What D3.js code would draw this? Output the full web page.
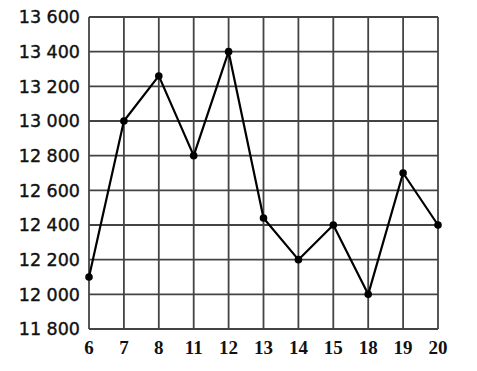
<!DOCTYPE html>
<html>
<head>
<meta charset="utf-8">
<script src="https://cdn.jsdelivr.net/npm/d3@7"></script>
<style>
  body { margin: 0; background: #fff; }
</style>
</head>
<body>
<script>
const days = ["6", "7", "8", "11", "12", "13", "14", "15", "18", "19", "20"];
const values = [12100, 13000, 13260, 12800, 13400, 12440, 12200, 12400, 12000, 12700, 12400];
const yTicks = [11800, 12000, 12200, 12400, 12600, 12800, 13000, 13200, 13400, 13600];

const w = 477;
const h = 371;
const padL = 89, padR = 438, padT = 17, padB = 329;

const svg = d3.select("body")
  .append("svg")
  .attr("width", w)
  .attr("height", h);

const x = d3.scalePoint()
  .domain(days)
  .range([padL, padR]);

const y = d3.scaleLinear()
  .domain([11800, 13600])
  .range([padB, padT]);

// grid
svg.append("g")
  .selectAll("line")
  .data(yTicks)
  .enter()
  .append("line")
  .attr("x1", padL)
  .attr("x2", padR)
  .attr("y1", (d) => y(d))
  .attr("y2", (d) => y(d))
  .attr("stroke", "#444")
  .attr("stroke-width", 1.8);

svg.append("g")
  .selectAll("line")
  .data(days)
  .enter()
  .append("line")
  .attr("x1", (d) => x(d))
  .attr("x2", (d) => x(d))
  .attr("y1", padT)
  .attr("y2", padB)
  .attr("stroke", "#444")
  .attr("stroke-width", 1.8);

// y labels
svg.append("g")
  .selectAll("text")
  .data(yTicks)
  .enter()
  .append("text")
  .attr("x", 80)
  .attr("y", (d) => y(d))
  .attr("dy", "0.36em")
  .attr("text-anchor", "end")
  .attr("font-family", "DejaVu Sans")
  .attr("font-size", "17.5px")
  .attr("fill", "#111")
  .attr("stroke", "#111")
  .attr("stroke-width", 0.4)
  .text((d) => d3.format(",")(d).replace(",", " "));

// x labels
svg.append("g")
  .selectAll("text")
  .data(days)
  .enter()
  .append("text")
  .attr("x", (d) => x(d))
  .attr("y", 354)
  .attr("text-anchor", "middle")
  .attr("font-family", "Liberation Serif")
  .attr("font-weight", "bold")
  .attr("font-size", "19px")
  .attr("fill", "#111")
  .text((d) => d);

// line
const line = d3.line()
  .x((d, i) => x(days[i]))
  .y((d) => y(d));

svg.append("path")
  .datum(values)
  .attr("d", line)
  .attr("fill", "none")
  .attr("stroke", "#000")
  .attr("stroke-width", 2.2)
  .attr("stroke-linejoin", "round");

svg.append("g")
  .selectAll("circle")
  .data(values)
  .enter()
  .append("circle")
  .attr("cx", (d, i) => x(days[i]))
  .attr("cy", (d) => y(d))
  .attr("r", 3.8)
  .attr("fill", "#000");
</script>
</body>
</html>
